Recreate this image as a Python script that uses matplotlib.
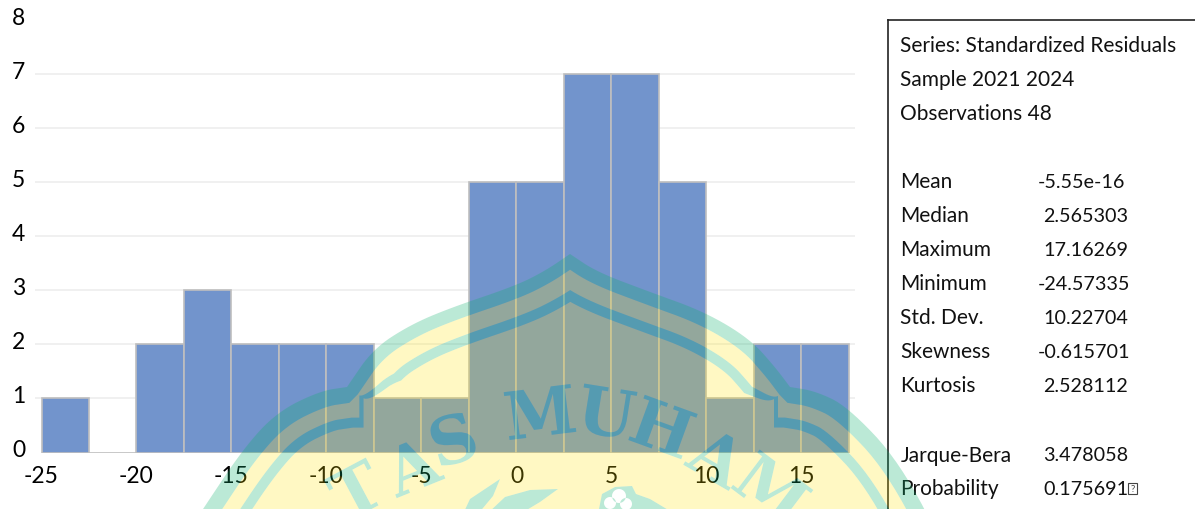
import numpy as np
import matplotlib
matplotlib.use("Agg")
import matplotlib.pyplot as plt
from matplotlib.path import Path
from matplotlib.patches import PathPatch
from matplotlib.textpath import TextPath
from matplotlib.font_manager import FontProperties
from matplotlib.transforms import Affine2D, ScaledTranslation

# ---- data ----
bin_left = [-25, -22.5, -20, -17.5, -15, -12.5, -10, -7.5, -5, -2.5, 0, 2.5, 5, 7.5, 10, 12.5, 15]
counts = [1, 0, 2, 3, 2, 2, 2, 1, 1, 5, 5, 7, 7, 5, 1, 2, 2]
x_ticks = [-25, -20, -15, -10, -5, 0, 5, 10, 15]
y_ticks = [0, 1, 2, 3, 4, 5, 6, 7, 8]
header_rows = ["Series: Standardized Residuals", "Sample 2021 2024", "Observations 48"]
stat_names = ["Mean", "Median", "Maximum", "Minimum", "Std. Dev.", "Skewness", "Kurtosis"]
stat_values = ["-5.55e-16", " 2.565303", " 17.16269", "-24.57335", " 10.22704", "-0.615701", " 2.528112"]
test_names = ["Jarque-Bera", "Probability"]
test_values = ["3.478058", "0.175691"]

W, H = 1195, 510
plt.rcParams["font.family"] = ["Lato", "DejaVu Sans"]
fig = plt.figure(figsize=(W / 100, H / 100), dpi=100, facecolor="white")

# plot area in pixels: left 35, right 855, y=0 at 453.5, y=8 at 21
ax = fig.add_axes([35 / W, 1 - 453.5 / H, 820 / W, 432.5 / H])
ax.set_xlim(-25 - 6.5 / 19, -25 + 813.5 / 19)
ax.set_ylim(0, 8)
ax.bar(bin_left, counts, width=2.5, align="edge", color="#7294CC", edgecolor="#BFBFBF",
       linewidth=1.2, zorder=3)
for s in ax.spines.values():
    s.set_visible(False)
ax.set_xticks(x_ticks)
ax.set_yticks(y_ticks)
ax.set_xticklabels([str(t) for t in x_ticks])
ax.tick_params(axis="both", length=0, labelsize=16.5, colors="#000000")
ax.tick_params(axis="x", pad=9)
ax.tick_params(axis="y", pad=7)
up = ScaledTranslation(0, 2.5 / 100, fig.dpi_scale_trans)
for lab in ax.get_yticklabels():
    lab.set_verticalalignment("center")
    lab.set_transform(lab.get_transform() + up)
for y in y_ticks[1:-1]:
    ax.axhline(y, color="#EDEDED", lw=1.2, zorder=1)


def px_text(x, y, s, size=15.0):
    fig.text(x / W, 1 - y / H, s, fontsize=size, va="center", ha="left", color="#111111")


for txt, y in zip(header_rows, [45.5, 79.5, 113.5]):
    px_text(900.5, y, txt)
for name, val, y in zip(stat_names, stat_values, [182.5, 216.5, 250.5, 284.5, 318.5, 352.5, 386.5]):
    px_text(900.5, y, name)
    px_text(1043 if val.startswith(" ") else 1038, y, val.strip(), size=14.2)
for name, val, y in zip(test_names, test_values, [455.5, 489.5]):
    px_text(900.5, y, name)
    px_text(1043, y, val, size=14.2)
fig.add_artist(plt.Rectangle((1128 / W, 1 - 495 / H), 9 / W, 11 / H, fill=False, ec="#444444", lw=0.8))
fig.text(1132.5 / W, 1 - 489.5 / H, "?", fontsize=7, ha="center", va="center", color="#444444")

fig.add_artist(plt.Line2D([887.5 / W, 887.5 / W], [0, 1 - 21 / H], color="#222222", lw=1.2))
fig.add_artist(plt.Line2D([887.5 / W, 1], [1 - 21 / H, 1 - 21 / H], color="#222222", lw=1.2))

# ---- watermark overlay (pixel coordinates, y down) ----
ov = fig.add_axes([0, 0, 1, 1], zorder=10)
ov.set_xlim(0, W)
ov.set_ylim(H, 0)
ov.axis("off")
ov.patch.set_alpha(0)

YEL = (255 / 255, 229 / 255, 3 / 255, 0.234)
TEAL = (12 / 255, 176 / 255, 108 / 255, 0.28)


def chaikin(pts, n=3):
    p = np.asarray(pts, float)
    for _ in range(n):
        q = [p[0]]
        for a, b in zip(p[:-1], p[1:]):
            q += [0.75 * a + 0.25 * b, 0.25 * a + 0.75 * b]
        q.append(p[-1])
        p = np.array(q)
    return p


arcs = [
    [(170, 560), (203, 510), (243, 450), (277, 413), (320, 392), (347, 388)],
    [(347, 388), (373, 350), (410, 326), (450, 309), (515, 287), (545, 272), (570, 255)],
    [(570, 255), (597, 273), (650, 293), (705, 313), (750, 340), (775, 368), (790, 388)],
    [(790, 388), (815, 392), (847, 407), (900, 463), (950, 560)],
]
# band edges (outer band end, gap end, inner band end) per arc
edges = [(16, 31, 41), (13, 30, 40), (13, 30, 40), (16, 31, 41)]


def offset_arc(pts, d):
    t = np.gradient(pts, axis=0)
    t /= np.maximum(np.hypot(t[:, 0], t[:, 1])[:, None], 1e-6)
    n = np.c_[-t[:, 1], t[:, 0]]
    return pts + np.asarray(d).reshape(-1, 1) * n


def contour(k):
    parts = []
    for j, (a, e) in enumerate(zip(arcs, edges)):
        pts = chaikin(a)
        d = np.full(len(pts), 0.0 if k < 0 else float(e[k]))
        if k >= 1 and j in (1, 2):
            # offsets pull in towards the notch where two arches meet
            s = np.linspace(0, 1, len(pts))
            s = s if j == 1 else s[::-1]
            d = d * (0.5 + 0.5 * np.clip(s / 0.2, 0, 1))
        parts.append(offset_arc(pts, d))
    p, q = parts[1], parts[2]
    xs = np.linspace(max(p[0, 0], q[0, 0]), min(p[-1, 0], q[-1, 0]), 2000)
    if k >= 0:
        # trim the two top arcs where their offsets cross at the peak
        diff = np.interp(xs, p[:, 0], p[:, 1]) - np.interp(xs, q[:, 0], q[:, 1])
        i = np.where(np.sign(diff[:-1]) != np.sign(diff[1:]))[0]
        if len(i):
            xc = xs[i[0]]
            yc = np.interp(xc, p[:, 0], p[:, 1])
            parts[1] = np.vstack([p[p[:, 0] < xc], [(xc, yc)]])
            parts[2] = q[q[:, 0] > xc]
    if k >= 1:
        # square corners at the notches
        left = (parts[1][0, 0], parts[0][-1, 1])
        right = (parts[2][-1, 0], parts[3][0, 1])
        parts = [parts[0], np.array([left]), parts[1], parts[2], np.array([right]), parts[3]]
    return np.vstack(parts)


def area(p):
    x, y = p[:, 0], p[:, 1]
    return 0.5 * np.sum(x * np.roll(y, -1) - np.roll(x, -1) * y)


def oriented(p, sign):
    p = np.asarray(p, float)
    return p if np.sign(area(p)) == sign else p[::-1]


def poly_path(p):
    p = np.vstack([p, p[:1]])
    codes = [Path.MOVETO] + [Path.LINETO] * (len(p) - 2) + [Path.CLOSEPOLY]
    return Path(p, codes)


def ring(k0, k1):
    return np.vstack([contour(k0), contour(k1)[::-1]])


prop = FontProperties(family="DejaVu Serif", weight="bold")
letters = [("T", 356, 491, 28), ("A", 412, 467, 22), ("S", 453, 440, 17),
           ("M", 540, 413, 7), ("U", 607, 413, -9), ("H", 663, 428, -20),
           ("A", 718, 458, -30), ("M", 772, 490, -37)]
glyphs = []
for ch, cx, cy, rot in letters:
    tp = TextPath((0, 0), ch, size=66, prop=prop)
    ext = tp.get_extents()
    tr = (Affine2D().translate(-(ext.x0 + ext.x1) / 2, -(ext.y0 + ext.y1) / 2)
          .scale(1, -1).rotate_deg(-rot).translate(cx, cy))
    glyphs.append(tr.transform_path(tp))
glyph_sign = np.sign(area(glyphs[3].to_polygons(closed_only=False)[0]))

leaves = [
    [(463, 515), (470, 500), (485, 490), (500, 480), (493, 497), (478, 515)],
    [(487, 515), (505, 498), (530, 491), (558, 490), (540, 503), (520, 515)],
]
leaf_paths = [poly_path(oriented(l, glyph_sign)) for l in leaves]

flower_outline = [(598, 515), (602, 495), (615, 488), (632, 487), (636, 495), (650, 500), (675, 515)]
flower_poly = poly_path(oriented(flower_outline, glyph_sign))
theta = np.linspace(0, 2 * np.pi, 40, endpoint=False)
flower_holes = []
for cx, cy, r in [(610, 504, 6), (619, 497, 7), (626, 505, 6)]:
    c = np.c_[cx + r * np.cos(theta), cy + r * np.sin(theta)]
    flower_holes.append(poly_path(oriented(c, -glyph_sign)))
flower_teal = Path.make_compound_path(flower_poly, *flower_holes)

interior = np.vstack([contour(2), [(1000, 620), (100, 620)]])
yellow_main = Path.make_compound_path(poly_path(oriented(interior, -glyph_sign)),
                                      *glyphs, *leaf_paths, flower_poly)
yellow_gap = poly_path(ring(0, 1))

ov.add_patch(PathPatch(yellow_main, fc=YEL, ec="none", lw=0))
ov.add_patch(PathPatch(yellow_gap, fc=YEL, ec="none", lw=0))
ov.add_patch(PathPatch(poly_path(ring(-1, 0)), fc=TEAL, ec="none", lw=0))
ov.add_patch(PathPatch(poly_path(ring(1, 2)), fc=TEAL, ec="none", lw=0))
for g in glyphs + leaf_paths + [flower_teal]:
    ov.add_patch(PathPatch(g, fc=TEAL, ec="none", lw=0))

fig.savefig("out.png", dpi=100, facecolor="white")
